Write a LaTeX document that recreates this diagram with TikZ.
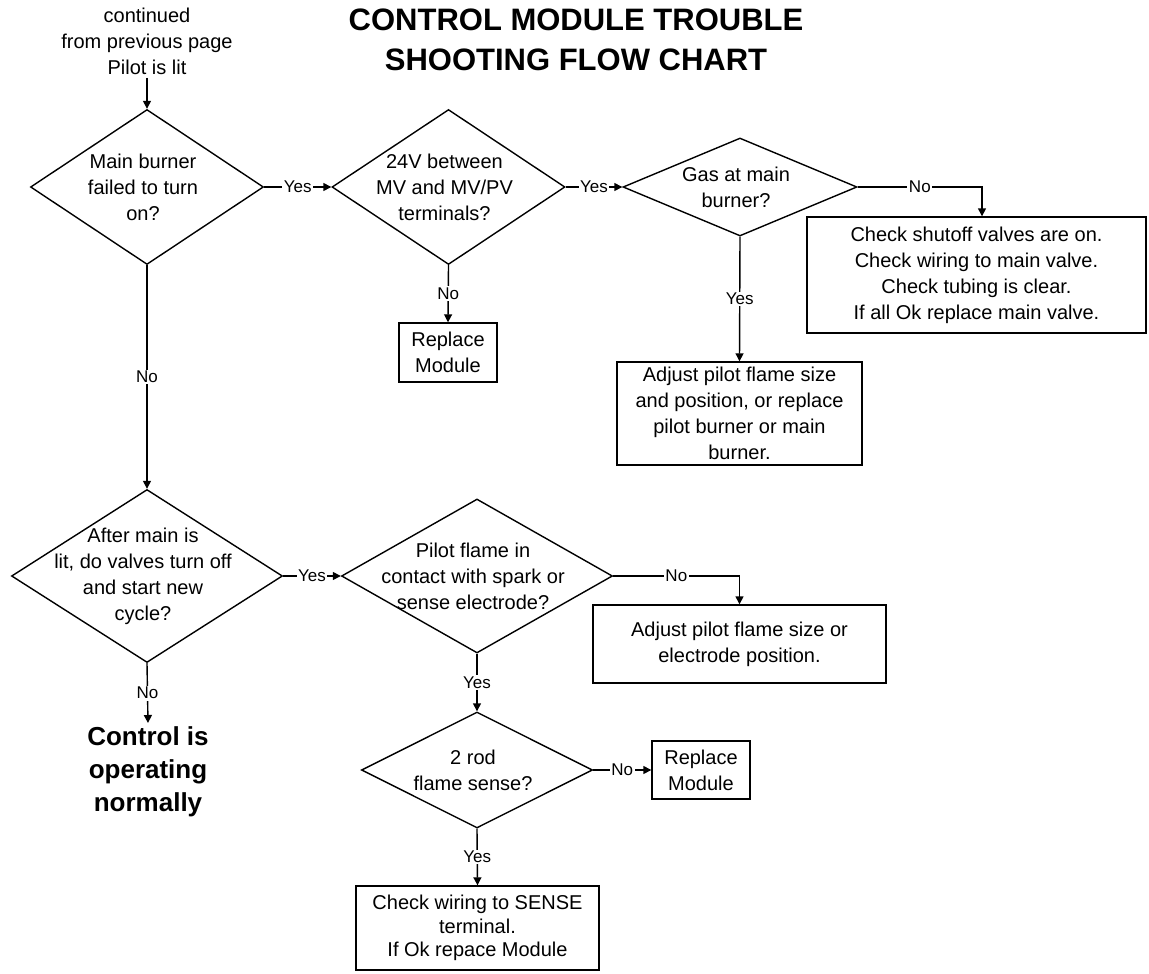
\documentclass[tikz,border=0pt]{standalone}
\usepackage{fontspec}
\setmainfont{Liberation Sans}
\usetikzlibrary{arrows.meta, positioning, shapes.geometric, calc}
\definecolor{Ink}{HTML}{000000}
\definecolor{Paper}{HTML}{FFFFFF}

\begin{document}
\begin{tikzpicture}[
  x=1pt,
  y=-1pt,
  decision/.style={
    diamond,
    draw=Ink,
    line width=1.4pt,
    fill=Paper,
    inner sep=0pt
  },
  qtext/.style={
    align=center,
    text=Ink,
    xshift=-4pt,
    font=\fontsize{20}{26}\selectfont
  },
  action/.style={
    rectangle,
    draw=Ink,
    line width=1.4pt,
    fill=Paper,
    align=center,
    text=Ink,
    inner sep=0pt,
    font=\fontsize{20}{26}\selectfont
  },
  answer/.style={
    fill=Paper,
    text=Ink,
    inner sep=1.5pt,
    font=\fontsize{17}{19}\selectfont
  },
  flow/.style={
    -{Triangle[length=8pt,width=8pt]},
    line width=1.4pt,
    draw=Ink
  }
]

\useasboundingbox[fill=Paper] (0,0) rectangle (1149,974);

\node[text=Ink, font=\fontsize{31}{40}\bfseries\selectfont, align=center] (title) at (576,40)
  {CONTROL MODULE TROUBLE\\SHOOTING FLOW CHART};

\node[text=Ink, font=\fontsize{20}{26}\selectfont, align=center] (start) at (147,41)
  {continued\\from previous page\\Pilot is lit};

% decisions
\node[decision, minimum width=233pt, minimum height=155pt] (burner) at (147,187) {};
\node[qtext] (burner-t) at (burner) {Main burner\\failed to turn\\on?};

\node[decision, minimum width=233pt, minimum height=155pt] (volts) at (448.5,187) {};
\node[qtext] (volts-t) at (volts) {24V between\\MV and MV/PV\\terminals?};

\node[decision, minimum width=234pt, minimum height=98pt] (gas) at (740,187) {};
\node[qtext] (gas-t) at (gas) {Gas at main\\burner?};

\node[decision, minimum width=271pt, minimum height=173pt] (cycle) at (147,576) {};
\node[qtext] (cycle-t) at (cycle) {After main is\\lit, do valves turn off\\and start new\\cycle?};

\node[decision, minimum width=271pt, minimum height=154pt] (contact) at (477,576) {};
\node[qtext] (contact-t) at (contact) {Pilot flame in\\contact with spark or\\sense electrode?};

\node[decision, minimum width=231pt, minimum height=116pt] (rod) at (477,770) {};
\node[qtext] (rod-t) at (rod) {2 rod\\flame sense?};

% actions
\node[action, minimum width=98pt, minimum height=59pt] (replaceA) at (448,352.5)
  {Replace\\Module};
\node[action, minimum width=339pt, minimum height=116pt] (shutoff) at (976.5,275)
  {Check shutoff valves are on.\\Check wiring to main valve.\\Check tubing is clear.\\If all Ok replace main valve.};
\node[action, minimum width=245pt, minimum height=103pt] (adjustA) at (739.5,413.5)
  {Adjust pilot flame size\\and position, or replace\\pilot burner or main\\burner.};
\node[action, minimum width=293pt, minimum height=78pt] (adjustB) at (739.5,644)
  {Adjust pilot flame size or\\electrode position.};
\node[action, minimum width=98pt, minimum height=58pt] (replaceB) at (701,770)
  {Replace\\Module};
\node[action, minimum width=243pt, minimum height=84pt, font=\fontsize{20}{23.5}\selectfont] (wiring) at (477.5,928)
  {Check wiring to SENSE\\terminal.\\If Ok repace Module};

\node[text=Ink, font=\fontsize{26}{33}\bfseries\selectfont, align=center, anchor=north, inner sep=3pt] (normal) at (148,723)
  {Control is\\operating\\normally};

% connectors
\draw[flow] (start.south) -- (burner.north);
\draw[flow] (burner.east) -- node[answer] {Yes} (volts.west);
\draw[flow] (volts.east) -- node[answer] {Yes} (gas.west);
\draw[flow] (volts.south) -- node[answer] {No} (replaceA.north);
\draw[flow] (gas.east) -| node[answer, pos=0.25] {No} ([xshift=5.5pt]shutoff.north);
\draw[flow] (gas.south) -- node[answer] {Yes} (adjustA.north);
\draw[flow] (burner.south) -- node[answer] {No} (cycle.north);
\draw[flow] (cycle.east) -- node[answer] {Yes} (contact.west);
\draw[flow] (cycle.south) -- node[answer] {No} (normal.north);
\draw[flow] (contact.east) -| node[answer, pos=0.25] {No} (adjustB.north);
\draw[flow] (contact.south) -- node[answer] {Yes} (rod.north);
\draw[flow] (rod.east) -- node[answer] {No} (replaceB.west);
\draw[flow] (rod.south) -- node[answer] {Yes} (wiring.north);

\end{tikzpicture}
\end{document}
